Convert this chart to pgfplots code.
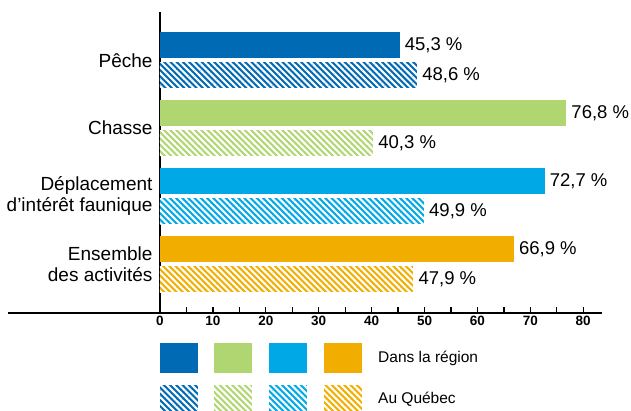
\documentclass[border=0pt]{standalone}
\usepackage{pgfplots}
\pgfplotsset{compat=1.18}
\usepackage{fontspec}
\setmainfont{Liberation Sans}
\usetikzlibrary{patterns.meta}
\definecolor{cA}{RGB}{0,106,180}
\definecolor{cB}{RGB}{176,214,114}
\definecolor{cC}{RGB}{0,168,230}
\definecolor{cD}{RGB}{242,174,0}
\tikzset{hatch/.style={postaction={pattern={Lines[angle=-45,distance=4.4pt,line width=2.1pt]}, pattern color=white}}}
\begin{document}
\begin{tikzpicture}
\path[use as bounding box] (-160pt,-98pt) rectangle (471pt,313pt);
\begin{axis}[at={(0pt,0pt)}, anchor=south west, scale only axis, width=442pt, height=301pt,
 xmin=0, xmax=83.55, ymin=-0.72, ymax=3.71,
 xbar, bar width=26pt,
 axis x line=bottom, axis y line=left, axis line style={-, line width=2pt},
 xtick={0,10,...,80}, minor xtick={5,15,...,75},
 tick align=inside, major tick length=6pt, minor tick length=6pt,
 x tick style={line width=1.3pt, black},
 ytick={0,1,2,3},
 yticklabels={{Ensemble\\des activités},{Déplacement\\d’intérêt faunique},Chasse,Pêche},
 y tick style={draw=none},
 yticklabel style={align=right, font=\fontsize{19}{21}\selectfont, xshift=-4pt},
 xticklabel style={font=\fontsize{13.5}{14}\selectfont\bfseries},
 /pgf/number format/assume math mode=true,
 nodes near coords={\pgfmathprintnumber[use comma,fixed,fixed zerofill,precision=1]{\pgfplotspointmeta}\ \%},
 nodes near coords style={font=\fontsize{18.5}{20}\selectfont, anchor=west, inner sep=0pt, xshift=5pt, text=black},
 clip=false,
]
\addplot[fill=cA, draw=none, bar shift=15pt] coordinates {(45.3,3)};
\addplot[fill=cA, draw=none, bar shift=-15pt, hatch] coordinates {(48.6,3)};
\addplot[fill=cB, draw=none, bar shift=15pt] coordinates {(76.8,2)};
\addplot[fill=cB, draw=none, bar shift=-15pt, hatch] coordinates {(40.3,2)};
\addplot[fill=cC, draw=none, bar shift=15pt] coordinates {(72.7,1)};
\addplot[fill=cC, draw=none, bar shift=-15pt, hatch] coordinates {(49.9,1)};
\addplot[fill=cD, draw=none, bar shift=15pt] coordinates {(66.9,0)};
\addplot[fill=cD, draw=none, bar shift=-15pt, hatch] coordinates {(47.9,0)};
\end{axis}
\draw[line width=2pt] (-152pt,0pt) -- (0pt,0pt);
% legend
\fill[cA] (0pt,-30pt) rectangle (38pt,-60pt);
\fill[cB] (54pt,-30pt) rectangle (92pt,-60pt);
\fill[cC] (109pt,-30pt) rectangle (147pt,-60pt);
\fill[cD] (164pt,-30pt) rectangle (202pt,-60pt);
\fill[cA, hatch] (0pt,-72pt) rectangle (38pt,-98pt);
\fill[cB, hatch] (54pt,-72pt) rectangle (92pt,-98pt);
\fill[cC, hatch] (109pt,-72pt) rectangle (147pt,-98pt);
\fill[cD, hatch] (164pt,-72pt) rectangle (202pt,-98pt);
\node[anchor=west, inner sep=0pt, font=\fontsize{15.5}{17}\selectfont] at (218pt,-45pt) {Dans la région};
\node[anchor=west, inner sep=0pt, font=\fontsize{15.5}{17}\selectfont] at (218pt,-86pt) {Au Québec};
\end{tikzpicture}
\end{document}
